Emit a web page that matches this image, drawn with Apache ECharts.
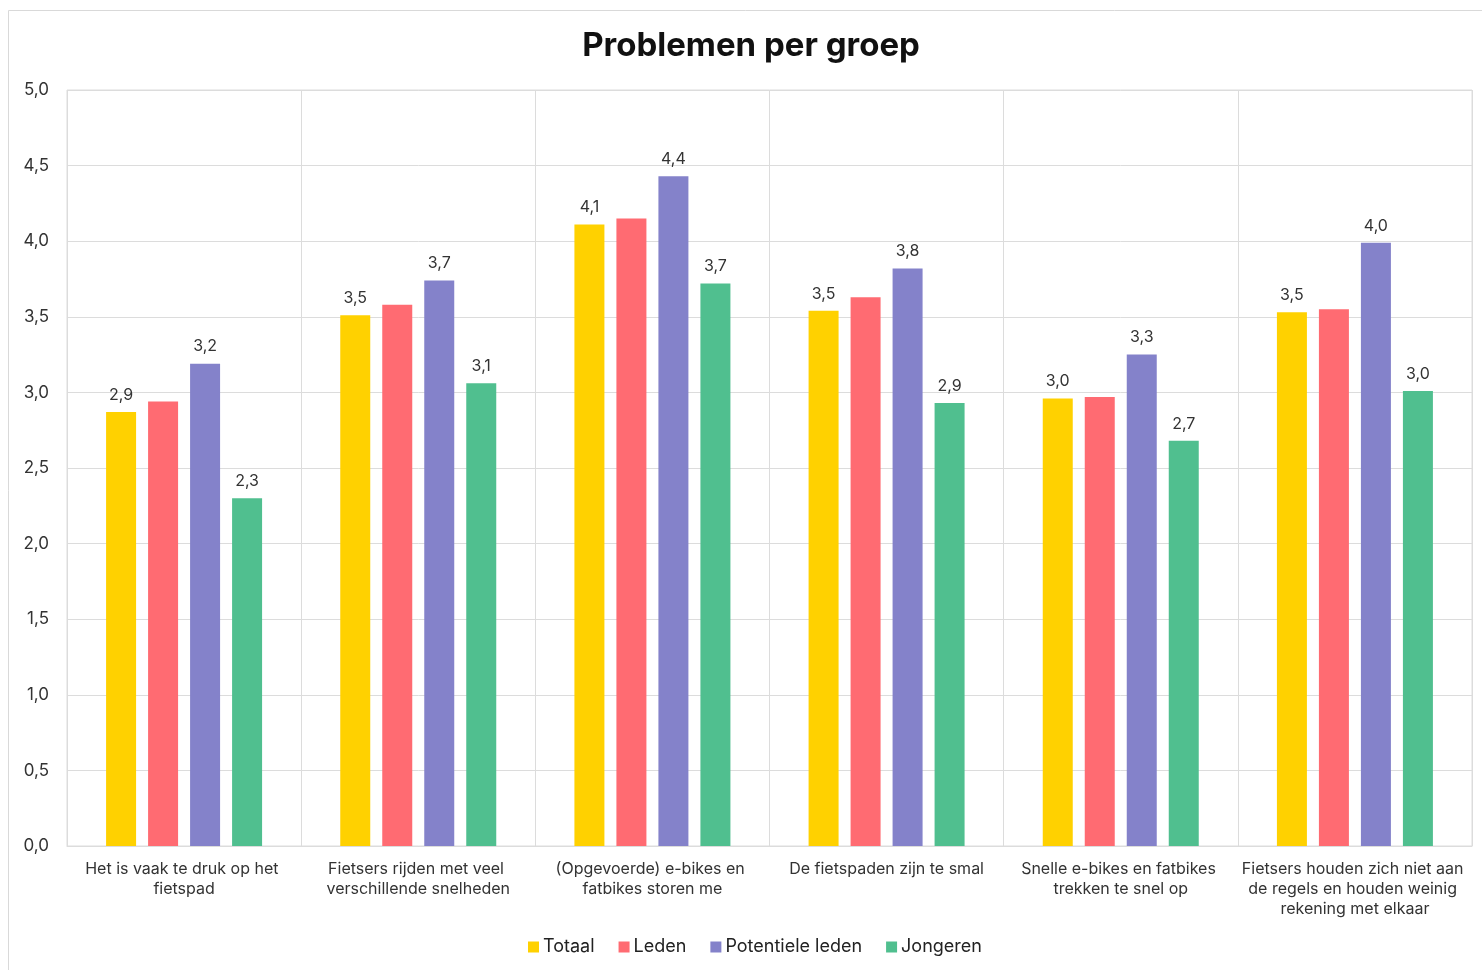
<!DOCTYPE html>
<html>
<head>
<meta charset="utf-8">
<script src="https://cdn.jsdelivr.net/npm/echarts@6/dist/echarts.min.js"></script>
<style>
html,body{margin:0;padding:0;background:#fff;}
#c{width:1482px;height:970px;}
</style>
</head>
<body>
<div id="c"></div>
<script>
const categories = [
  'Het is vaak te druk op het fietspad',
  'Fietsers rijden met veel verschillende snelheden',
  '(Opgevoerde) e-bikes en fatbikes storen me',
  'De fietspaden zijn te smal',
  'Snelle e-bikes en fatbikes trekken te snel op',
  'Fietsers houden zich niet aan de regels en houden weinig rekening met elkaar'
];
const totaal = [2.87, 3.51, 4.11, 3.54, 2.96, 3.53];
const leden = [2.94, 3.58, 4.15, 3.63, 2.97, 3.55];
const potentieleLeden = [3.19, 3.74, 4.43, 3.82, 3.25, 3.99];
const jongeren = [2.30, 3.06, 3.72, 2.93, 2.68, 3.01];
const seriesNames = ['Totaal', 'Leden', 'Potentiele leden', 'Jongeren'];
const colors = ['#FFD100', '#FF6B72', '#8482CA', '#50BF8F'];
const yTicks = { min: 0, max: 5, interval: 0.5 };

const fmt = v => v.toFixed(1).replace('.', ',');
const FONT = 'Inter, "Noto Sans", sans-serif';

const chart = echarts.init(document.getElementById('c'));
const mk = (name, data, color, showLabel) => ({
  name, type: 'bar', data,
  barWidth: 30, barGap: '40%',
  itemStyle: { color },
  label: {
    show: showLabel, position: 'top', distance: 9,
    color: '#333', fontSize: 16, fontFamily: FONT,
    formatter: p => fmt(p.value)
  }
});
chart.setOption({
  textStyle: { fontFamily: FONT },
  graphic: [{
    type: 'rect', shape: { x: 8.5, y: 10.5, width: 1500, height: 1000 },
    style: { fill: 'none', stroke: '#d9d9d9', lineWidth: 1 }, silent: true, z: -1
  }, {
    type: 'text', x: 751, y: 46, silent: true,
    style: {
      text: 'Problemen per groep', align: 'center', verticalAlign: 'middle',
      fontSize: 33, fontWeight: 'bold', fill: '#111', fontFamily: FONT
    }
  }],
  grid: { left: 67, top: 90, right: 10, bottom: 124, show: true, borderColor: '#dcdcdc', borderWidth: 1 },
  legend: {
    bottom: 9, left: 523, itemWidth: 11, itemHeight: 11, itemGap: 24,
    icon: 'rect',
    textStyle: { fontSize: 18, color: '#222', fontFamily: FONT, padding: [0, 0, 0, -1] }
  },
  xAxis: {
    type: 'category', data: categories,
    axisLine: { lineStyle: { color: '#dcdcdc' } },
    axisTick: { show: false },
    splitLine: { show: true, lineStyle: { color: '#dcdcdc' } },
    axisLabel: {
      color: '#333', fontSize: 16, fontFamily: FONT, margin: 13, lineHeight: 20,
      width: 234, overflow: 'break', interval: 0, align: 'center'
    }
  },
  yAxis: {
    type: 'value', min: yTicks.min, max: yTicks.max, interval: yTicks.interval,
    axisLine: { show: false }, axisTick: { show: false },
    splitLine: { lineStyle: { color: '#dcdcdc' } },
    axisLabel: { color: '#333', fontSize: 17, fontFamily: FONT, margin: 18, formatter: v => fmt(v) }
  },
  series: [
    mk(seriesNames[0], totaal, colors[0], true),
    mk(seriesNames[1], leden, colors[1], false),
    mk(seriesNames[2], potentieleLeden, colors[2], true),
    mk(seriesNames[3], jongeren, colors[3], true)
  ]
});
</script>
</body>
</html>
